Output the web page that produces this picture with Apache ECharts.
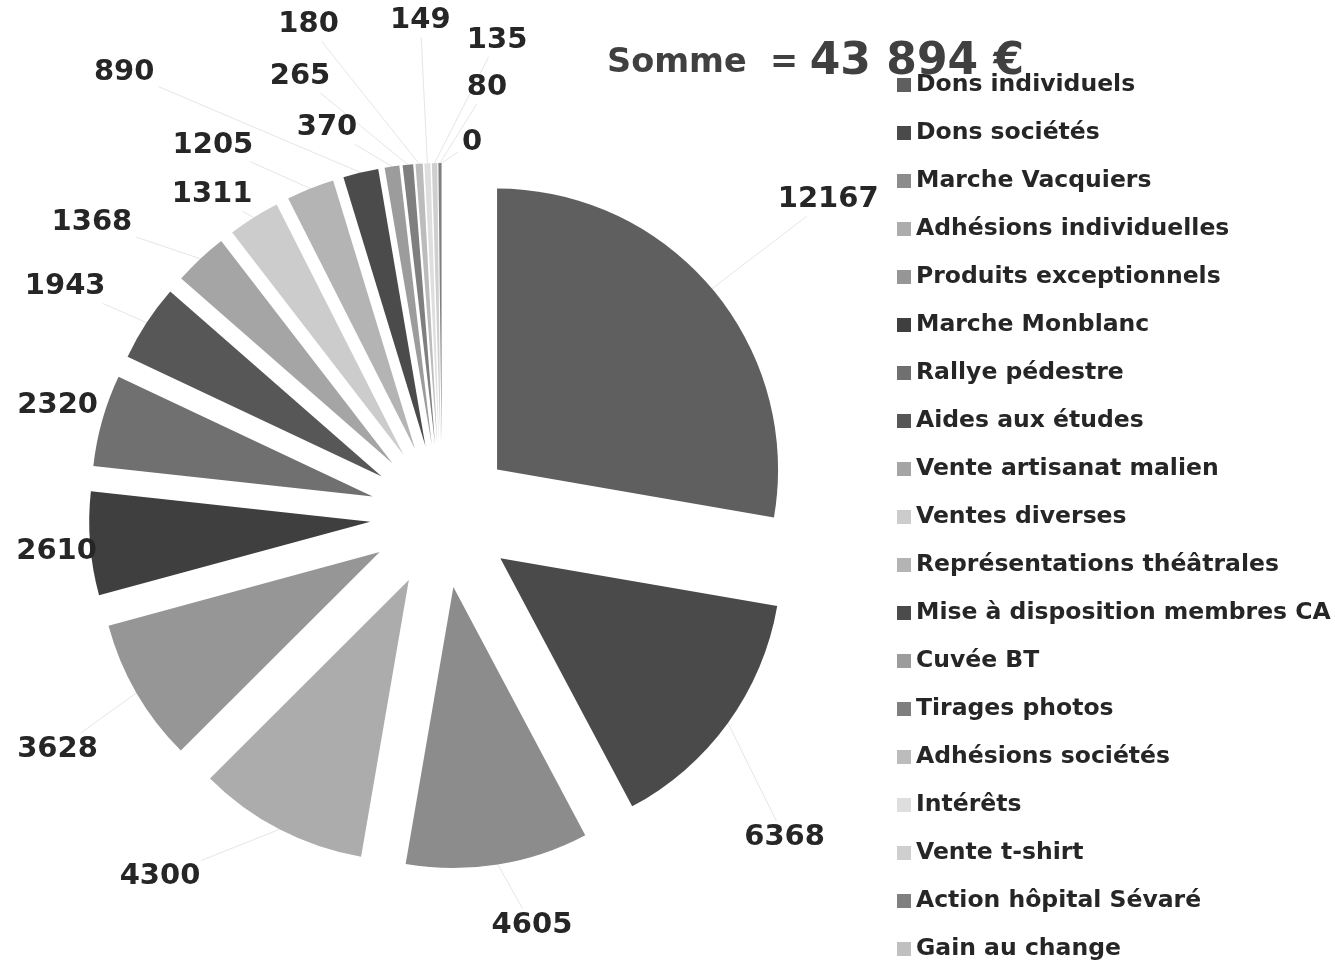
<!DOCTYPE html>
<html>
<head>
<meta charset="utf-8">
<script src="https://cdn.jsdelivr.net/npm/echarts@6/dist/echarts.min.js"></script>
<style>
html,body{margin:0;padding:0;background:#fff;}
#chart{width:1335px;height:964px;}
</style>
</head>
<body>
<div id="chart"></div>
<script>
const categories = ["Dons individuels","Dons sociétés","Marche Vacquiers","Adhésions individuelles","Produits exceptionnels","Marche Monblanc","Rallye pédestre","Aides aux études","Vente artisanat malien","Ventes diverses","Représentations théâtrales","Mise à disposition membres CA","Cuvée BT","Tirages photos","Adhésions sociétés","Intérêts","Vente t-shirt","Action hôpital Sévaré","Gain au change"];
const values = [12167,6368,4605,4300,3628,2610,2320,1943,1368,1311,1205,890,370,265,180,149,135,80,0];
const colors = ["#5f5f5f","#4a4a4a","#8c8c8c","#acacac","#969696","#3f3f3f","#707070","#575757","#a5a5a5","#cccccc","#b4b4b4","#4b4b4b","#9c9c9c","#7f7f7f","#bcbcbc","#dedede","#cfcfcf","#808080","#c0c0c0"];
const titleLabel = "Somme";
const totalText = "43 894 €";

// label placement (polar, around pie centre): [angle deg clockwise from top, distance px]
const labelPlacement = [[50.7,499],[133.2,470],[167.6,419],[218.0,458],[238.7,450],[264.8,387],[286.1,400],[301.3,441],[310.0,457],[324.4,395],[328.3,436],[324.4,546],[343.5,405],[342.1,462],[344.8,509],[357.5,496],[6.6,479],[6.0,431],[4.6,375]];

const CX = 442, CY = 516, R = 281, OFFSET = 72;
const total = values.reduce((a,b)=>a+b,0);
const mids = [];
{ let acc = 0; values.forEach(v=>{ mids.push((acc + v/2)/total*360); acc += v; }); }
function dir(deg){ const a = deg*Math.PI/180; return [Math.sin(a), -Math.cos(a)]; }

const chart = echarts.init(document.getElementById('chart'), null, {renderer:'canvas'});
const sliceData = categories.map((c,i)=>({name:c,value:values[i],selected:true,itemStyle:{color:colors[i]}}));
const labelData = categories.map((c,i)=>({name:c,value:values[i]}));
const font = 'DejaVu Sans';
chart.setOption({
  animation:false,
  backgroundColor:'#ffffff',
  color:colors,
  title:{
    text:'{a|'+titleLabel+'}{b|  = }{c|'+totalText+'}',
    left:607, top:41, padding:0,
    textStyle:{rich:{
      a:{fontFamily:font,fontWeight:'bold',fontSize:33.5,color:'#404040'},
      b:{fontFamily:font,fontWeight:'bold',fontSize:33.5,color:'#404040'},
      c:{fontFamily:font,fontWeight:'bold',fontSize:44,color:'#404040'}
    }}
  },
  legend:{
    orient:'vertical', left:897, top:73, padding:0,
    icon:'rect', itemWidth:14, itemHeight:14, itemGap:24,
    selectedMode:false,
    textStyle:{fontFamily:font,fontWeight:'bold',fontSize:23.5,color:'#262626',lineHeight:24},
    data:categories
  },
  series:[{
    name:'slices',
    type:'pie',
    center:[CX,CY],
    radius:[0,R],
    startAngle:90,
    clockwise:true,
    selectedMode:'multiple',
    selectedOffset:OFFSET,
    emphasis:{disabled:true},
    itemStyle:{borderWidth:0},
    label:{show:false},
    labelLine:{show:false},
    data:sliceData
  },{
    name:'labels',
    type:'pie',
    center:[CX,CY],
    radius:[0,R],
    startAngle:90,
    clockwise:true,
    selectedMode:false,
    silent:true,
    avoidLabelOverlap:false,
    emphasis:{disabled:true},
    itemStyle:{color:'rgba(0,0,0,0)',borderWidth:0},
    label:{show:true,position:'outside',formatter:'{c}',fontFamily:font,fontWeight:'bold',fontSize:29,color:'#262626'},
    labelLine:{show:true,length:20,length2:20,lineStyle:{color:'#e6e6e6',width:1}},
    labelLayout:function(p){
      const i = p.dataIndex;
      const lp = labelPlacement[i];
      const d = dir(lp[0]);
      const Lx = CX + d[0]*lp[1], Ly = CY + d[1]*lp[1];
      const m = dir(mids[i]);
      const Ex = CX + m[0]*(R+OFFSET), Ey = CY + m[1]*(R+OFFSET);
      let ux = Lx-Ex, uy = Ly-Ey; const len = Math.hypot(ux,uy)||1; ux/=len; uy/=len;
      const hw = p.labelRect.width/2+4, hh = p.labelRect.height/2+2;
      const t = Math.min(Math.abs(ux)>1e-6?hw/Math.abs(ux):1e9, Math.abs(uy)>1e-6?hh/Math.abs(uy):1e9);
      const end = [Lx-ux*t, Ly-uy*t];
      return {x:Lx, y:Ly, align:'center', verticalAlign:'middle', labelLinePoints:[[Ex,Ey],end,end]};
    },
    data:labelData
  }]
});
</script>
</body>
</html>
